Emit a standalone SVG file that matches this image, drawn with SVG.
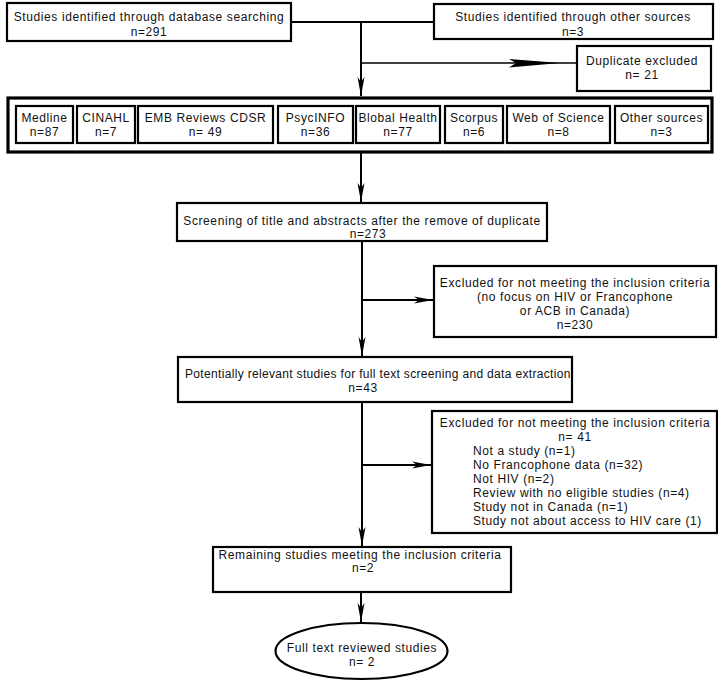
<svg xmlns="http://www.w3.org/2000/svg" width="718" height="685" viewBox="0 0 718 685">
<defs>
<style>
.box{fill:#fff;stroke:#000;stroke-width:2.2}
.outer{fill:#fff;stroke:#000;stroke-width:3.2}
.t{font-family:"Liberation Sans",Arial,sans-serif;font-size:12px;letter-spacing:0.6px;fill:#111}
.c{text-anchor:middle}
.ln{fill:none;stroke:#000;stroke-width:2}
.thin{fill:none;stroke:#000;stroke-width:1.4}
</style>
<marker id="ah" viewBox="-20 -5 22 10" refX="0" refY="0" markerWidth="22" markerHeight="10" orient="auto" markerUnits="userSpaceOnUse">
<path d="M0,0 L-19,-3.5 L-14,0 L-19,3.5 Z" fill="#000"/>
</marker>
</defs>
<rect width="718" height="685" fill="#fff"/>

<g id="connectors">
<path class="ln" d="M291,22 H361 M434,22 H361"/>
<path class="ln" d="M361,22 V96" marker-end="url(#ah)"/>
<path class="thin" d="M361,63 H577"/>
<polygon points="509,59 560,63 509,67.5 516,63" fill="#000"/>
<path class="ln" d="M361,152 V202" marker-end="url(#ah)"/>
<path class="ln" d="M362,241 V356" marker-end="url(#ah)"/>
<path class="ln" d="M362,300 H433" marker-end="url(#ah)"/>
<path class="ln" d="M362,402 V546" marker-end="url(#ah)"/>
<path class="ln" d="M362,465 H431" marker-end="url(#ah)"/>
<path class="ln" d="M361,592 V622" marker-end="url(#ah)"/>
</g>

<g id="db-search">
<rect class="box" x="7" y="3" width="284" height="38"/>
<text class="t c" x="149" y="21">Studies identified through database searching</text>
<text class="t c" x="149" y="36">n=291</text>
</g>

<g id="other-sources">
<rect class="box" x="434" y="4" width="279" height="35"/>
<text class="t c" x="573" y="21">Studies identified through other sources</text>
<text class="t c" x="573" y="36">n=3</text>
</g>

<g id="duplicate">
<rect class="box" x="577" y="46" width="134" height="45"/>
<text class="t c" x="642" y="65">Duplicate excluded</text>
<text class="t c" x="642" y="79">n= 21</text>
</g>

<g id="databases">
<rect class="outer" x="8" y="98" width="704" height="54"/>
<g id="medline"><rect class="box" x="16" y="106" width="57" height="37"/>
<text class="t c" x="44.5" y="122">Medline</text><text class="t c" x="44.5" y="136">n=87</text></g>
<g id="cinahl"><rect class="box" x="77" y="106" width="58" height="37"/>
<text class="t c" x="106" y="122">CINAHL</text><text class="t c" x="106" y="136">n=7</text></g>
<g id="emb"><rect class="box" x="138" y="106" width="135" height="37"/>
<text class="t c" x="205.5" y="122">EMB Reviews CDSR</text><text class="t c" x="205.5" y="136">n= 49</text></g>
<g id="psycinfo"><rect class="box" x="278" y="106" width="75" height="37"/>
<text class="t c" x="315.5" y="122">PsycINFO</text><text class="t c" x="315.5" y="136">n=36</text></g>
<g id="global-health"><rect class="box" x="356" y="106" width="84" height="37"/>
<text class="t c" x="398" y="122">Blobal Health</text><text class="t c" x="398" y="136">n=77</text></g>
<g id="scorpus"><rect class="box" x="445" y="106" width="58" height="37"/>
<text class="t c" x="474" y="122">Scorpus</text><text class="t c" x="474" y="136">n=6</text></g>
<g id="wos"><rect class="box" x="507" y="106" width="103" height="37"/>
<text class="t c" x="558.5" y="122">Web of Science</text><text class="t c" x="558.5" y="136">n=8</text></g>
<g id="other-db"><rect class="box" x="615" y="106" width="93" height="37"/>
<text class="t c" x="661.5" y="122">Other sources</text><text class="t c" x="661.5" y="136">n=3</text></g>
</g>

<g id="screening">
<rect class="box" x="177" y="203" width="370" height="38"/>
<text class="t c" x="362" y="225">Screening of title and abstracts after the remove of duplicate</text>
<text class="t c" x="368" y="238">n=273</text>
</g>

<g id="excluded-1">
<rect class="box" x="434" y="266" width="282" height="71"/>
<text class="t c" x="575" y="287">Excluded for not meeting the inclusion criteria</text>
<text class="t c" x="575" y="301">(no focus on HIV or Francophone</text>
<text class="t c" x="575" y="315">or ACB in Canada)</text>
<text class="t c" x="575" y="329">n=230</text>
</g>

<g id="potential">
<rect class="box" x="178" y="357" width="394" height="45"/>
<text class="t" x="185" y="378" textLength="386" lengthAdjust="spacing">Potentially relevant studies for full text screening and data extraction</text>
<text class="t c" x="363" y="392">n=43</text>
</g>

<g id="excluded-2">
<rect class="box" x="432" y="411" width="285" height="122"/>
<text class="t c" x="575" y="427">Excluded for not meeting the inclusion criteria</text>
<text class="t c" x="575" y="441">n= 41</text>
<text class="t" x="473" y="455">Not a study (n=1)</text>
<text class="t" x="473" y="469">No Francophone data (n=32)</text>
<text class="t" x="473" y="483">Not HIV (n=2)</text>
<text class="t" x="473" y="497">Review with no eligible studies (n=4)</text>
<text class="t" x="473" y="511">Study not in Canada (n=1)</text>
<text class="t" x="473" y="525">Study not about access to HIV care (1)</text>
</g>

<g id="remaining">
<rect class="box" x="213" y="547" width="298" height="45"/>
<text class="t c" x="360" y="559">Remaining studies meeting the inclusion criteria</text>
<text class="t c" x="363" y="572">n=2</text>
</g>

<g id="full-text">
<ellipse cx="361.5" cy="651" rx="86" ry="28" fill="#fff" stroke="#000" stroke-width="2.2"/>
<text class="t c" x="362" y="652">Full text reviewed studies</text>
<text class="t c" x="362" y="666">n= 2</text>
</g>
</svg>
